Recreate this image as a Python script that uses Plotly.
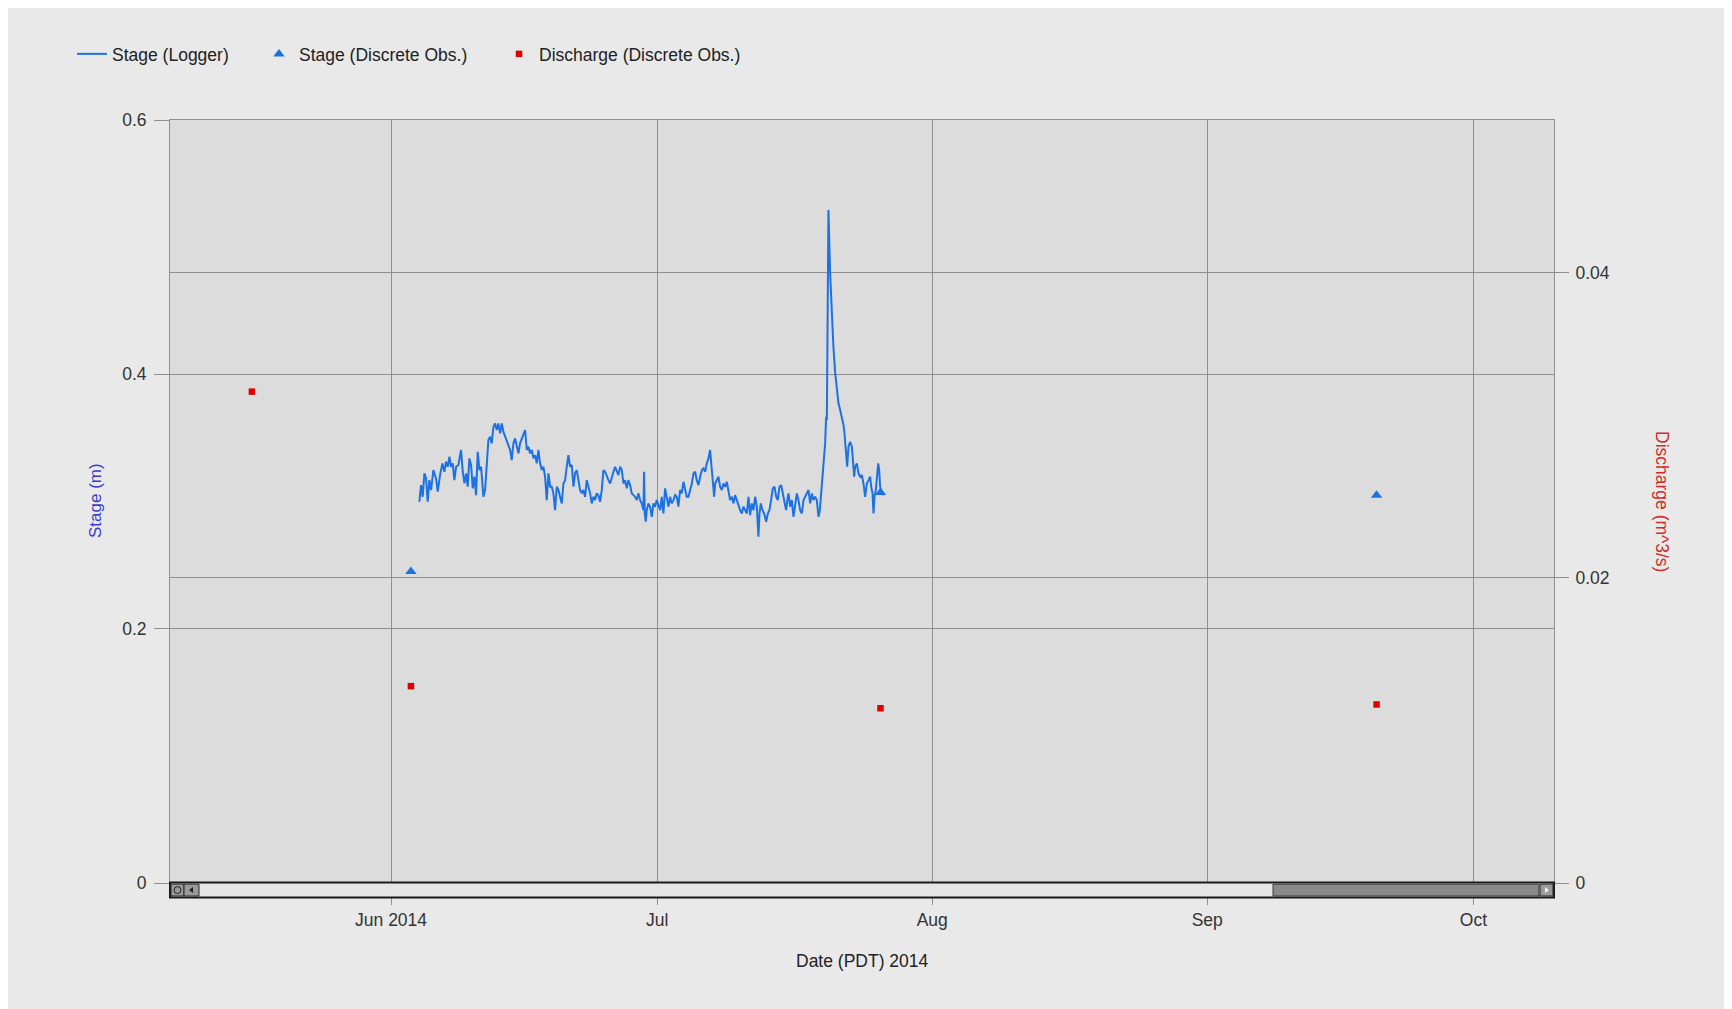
import pandas as pd
import plotly.graph_objects as go

# ---------------- data ----------------
# Stage logger: elapsed days since 2014-06-01 00:00 (PDT) and stage in metres
logger_day = [
    3.19, 3.38, 3.57, 3.76, 3.95, 4.13, 4.32, 4.51, 4.77, 5.07, 5.26, 5.52, 5.79, 6.01, 6.20, 6.39,
    6.58, 6.76, 6.95, 7.14, 7.33, 7.59, 7.89, 8.08, 8.27, 8.46, 8.64, 8.83, 9.02, 9.21, 9.40, 9.58,
    9.77, 9.96, 10.15, 10.41, 10.60, 10.79, 10.97, 11.16, 11.35, 11.54, 11.73, 11.91, 12.10, 12.29,
    12.48, 12.66, 12.85, 13.04, 13.23, 13.42, 13.60, 13.79, 13.98, 14.17, 14.36, 14.54, 14.92, 15.11,
    15.30, 15.48, 15.67, 15.86, 16.05, 16.24, 16.42, 16.61,
    16.80, 16.99, 17.17, 17.36, 17.55, 17.74, 17.93, 18.11, 18.30, 18.49, 18.68, 18.87, 19.05, 19.24,
    19.43, 19.62, 19.80, 19.99, 20.18, 20.37, 20.56, 20.74, 20.93, 21.12, 21.31, 21.50, 21.68, 21.87,
    22.06, 22.25, 22.44, 22.62, 22.81, 23.00, 23.19, 23.37, 23.56, 23.75, 23.94, 24.13, 24.31, 24.50,
    24.69, 24.88, 25.07, 25.25, 25.44, 25.63, 25.82, 26.01, 26.19, 26.38, 26.57, 26.76, 26.94, 27.13,
    27.32, 27.51, 27.70, 27.88, 28.07, 28.26, 28.45, 28.52, 28.60, 28.71, 28.82, 29.01, 29.20, 29.39,
    29.58, 29.76, 29.95, 30.14, 30.33, 30.51, 30.70,
    30.89, 31.08, 31.27, 31.45, 31.64, 31.83, 32.02, 32.21, 32.39, 32.58, 32.77, 32.96, 33.15, 33.33,
    33.52, 33.71, 33.90, 34.09, 34.27, 34.46, 34.65, 34.84, 35.03, 35.21, 35.40, 35.59, 35.78, 35.96,
    36.08, 36.27, 36.42, 36.53, 36.72, 36.90, 37.09, 37.28, 37.47, 37.66, 37.84, 38.03, 38.22, 38.41,
    38.60, 38.78, 38.97, 39.16, 39.35, 39.53, 39.72, 39.91, 40.10, 40.29, 40.47, 40.66, 40.85, 41.04,
    41.23, 41.41, 41.53, 41.68, 41.86, 42.05, 42.28, 42.47, 42.65, 42.84, 43.03, 43.22, 43.41, 43.59,
    43.78, 43.97, 44.16, 44.34, 44.53, 44.72,
    44.80, 44.98, 45.17, 45.36, 45.55, 45.74, 45.92, 46.11, 46.30, 46.49, 46.68, 46.86, 47.05, 47.24,
    47.43, 47.61, 47.80, 47.99, 48.18, 48.33, 48.48, 48.63, 48.78, 48.93, 49.04, 49.12, 49.30, 49.49,
    49.68, 49.86, 50.06, 50.32, 50.43, 50.62, 50.81, 51.00, 51.11, 51.18, 51.30, 51.41, 51.56, 51.75,
    51.94, 52.05, 52.20, 52.31, 52.50, 52.69, 52.88, 53.06, 53.25, 53.44, 53.63, 53.82, 54.00, 54.12,
    54.27, 54.38, 54.49, 54.64, 54.79, 54.91, 55.02, 55.13, 55.32, 55.51,
]
logger_stage = [
    0.2998, 0.3129, 0.3037, 0.3221, 0.3182, 0.2998, 0.3168, 0.3090, 0.3247, 0.3182, 0.3077, 0.3208,
    0.3300, 0.3234, 0.3313, 0.3273, 0.3352, 0.3273, 0.3300, 0.3168, 0.3273, 0.3287, 0.3405, 0.3234,
    0.3142, 0.3221, 0.3116, 0.3339, 0.3287, 0.3103, 0.3195, 0.3050, 0.3391, 0.3247, 0.3273, 0.3037,
    0.3090, 0.3273, 0.3483, 0.3509, 0.3457, 0.3588, 0.3614, 0.3562, 0.3614, 0.3536, 0.3614, 0.3549,
    0.3509, 0.3483, 0.3431, 0.3405, 0.3326, 0.3457, 0.3496, 0.3431, 0.3378, 0.3457, 0.3536, 0.3562,
    0.3405, 0.3431, 0.3378, 0.3405, 0.3339, 0.3365, 0.3300, 0.3405,
    0.3300, 0.3247, 0.3273, 0.3195, 0.3011, 0.3221, 0.3116, 0.3116, 0.3064, 0.2932, 0.3116, 0.3090,
    0.3037, 0.2985, 0.3142, 0.3168, 0.3273, 0.3365, 0.3273, 0.3287, 0.3116, 0.3221, 0.3247, 0.3168,
    0.3090, 0.3064, 0.3090, 0.3037, 0.3168, 0.3116, 0.3064, 0.2985, 0.3037, 0.3011, 0.3064, 0.3050,
    0.2998, 0.3090, 0.3247, 0.3234, 0.3195, 0.3168, 0.3142, 0.3195, 0.3234, 0.3273, 0.3247, 0.3208,
    0.3273, 0.3247, 0.3142, 0.3168, 0.3103, 0.3168, 0.3129, 0.3064, 0.3050, 0.3037, 0.3011, 0.3064,
    0.3011, 0.2985, 0.2932, 0.3234, 0.2906, 0.2841, 0.2932, 0.2985, 0.2959, 0.2880, 0.2985, 0.2959,
    0.3011, 0.2972, 0.2932, 0.3037, 0.2906,
    0.3103, 0.3011, 0.2959, 0.3037, 0.2985, 0.3011, 0.3050, 0.3037, 0.2959, 0.3090, 0.3064, 0.3155,
    0.3077, 0.3037, 0.3037, 0.3090, 0.3142, 0.3221, 0.3234, 0.3168, 0.3129, 0.3195, 0.3247, 0.3260,
    0.3234, 0.3300, 0.3339, 0.3405, 0.3300, 0.3195, 0.3037, 0.3142, 0.3168, 0.3195, 0.3116, 0.3090,
    0.3142, 0.3116, 0.3155, 0.3064, 0.3011, 0.3037, 0.2985, 0.3050, 0.3011, 0.2959, 0.2932, 0.2906,
    0.2959, 0.2932, 0.2906, 0.3037, 0.2893, 0.2985, 0.2932, 0.3037, 0.2959, 0.2723, 0.2906, 0.2985,
    0.2932, 0.2906, 0.2841, 0.2906, 0.2932, 0.3011, 0.3103, 0.3116, 0.3037, 0.3011, 0.3116, 0.3129,
    0.3064, 0.3011, 0.2932, 0.3037,
    0.3064, 0.2959, 0.3011, 0.2880, 0.2985, 0.3064, 0.3011, 0.2932, 0.2906, 0.3011, 0.3037, 0.3064,
    0.3090, 0.2985, 0.3064, 0.3011, 0.3037, 0.3011, 0.2880, 0.2932, 0.3090, 0.3168, 0.3326, 0.3457,
    0.3667, 0.3641, 0.5293, 0.4798, 0.4454, 0.4218, 0.4011, 0.3824, 0.3772, 0.3719, 0.3667, 0.3601,
    0.3536, 0.3457, 0.3405, 0.3273, 0.3431, 0.3470, 0.3431, 0.3326, 0.3195, 0.3273, 0.3300, 0.3221,
    0.3195, 0.3208, 0.3142, 0.3037, 0.3142, 0.3168, 0.3195, 0.3116, 0.3064, 0.2906, 0.3037, 0.3090,
    0.3195, 0.3300, 0.3247, 0.3116, 0.3064, 0.3050,
]

# Discrete observations
stage_obs_time = ["2014-06-03 05:45", "2014-07-26 04:00", "2014-09-20 02:00"]
stage_obs = [0.245, 0.307, 0.305]
discharge_obs_time = ["2014-05-16 07:30", "2014-06-03 05:45", "2014-07-26 04:00", "2014-09-20 02:00"]
discharge_obs = [0.0322, 0.0129, 0.01145, 0.0117]

# Axes
x_range = ["2014-05-07 02:00", "2014-10-10 02:00"]
x_tick_dates = ["2014-06-01", "2014-07-01", "2014-08-01", "2014-09-01", "2014-10-01"]
x_tick_labels = ["Jun 2014", "Jul", "Aug", "Sep", "Oct"]
stage_ticks = [0, 0.2, 0.4, 0.6]
stage_tick_labels = ["0", "0.2", "0.4", "0.6"]
discharge_ticks = [0, 0.02, 0.04]
discharge_tick_labels = ["0", "0.02", "0.04"]

# ---------------- figure ----------------
W, H = 1732, 1009
OFF = 8  # page body margin
ML, MR, MT, MB = 162, 186, 112, 134
PW, PH = W - ML - MR, H - MT - MB


def px(xpage):
    return (xpage - OFF - ML) / PW


def py(ypage):
    return (H - MB - (ypage - OFF)) / PH


FONT = "Liberation Sans, Arial, sans-serif"
BLUE = "#1c72e4"
RED = "#e00000"
GRID = "#8f8f8f"

logger_time = pd.Timestamp("2014-06-01") + pd.to_timedelta(logger_day, unit="D")

fig = go.Figure()
fig.add_trace(go.Scatter(
    x=logger_time, y=logger_stage, mode="lines", name="Stage (Logger)",
    line=dict(color=BLUE, width=2), yaxis="y", legend="legend",
))
fig.add_trace(go.Scatter(
    x=pd.to_datetime(stage_obs_time), y=stage_obs, mode="markers", name="Stage (Discrete Obs.)",
    marker=dict(symbol="triangle-up", size=10, color=BLUE), yaxis="y", legend="legend2",
))
fig.add_trace(go.Scatter(
    x=pd.to_datetime(discharge_obs_time), y=discharge_obs, mode="markers",
    name="Discharge (Discrete Obs.)",
    marker=dict(symbol="square", size=6.5, color=RED), yaxis="y2", legend="legend3",
))

tickfont = dict(family=FONT, size=17.5, color="#333333")
legfont = dict(family=FONT, size=17.5, color="#222222")


def leg(xpage):
    return dict(orientation="h", x=px(xpage), y=py(54), xanchor="left", yanchor="middle",
                font=legfont, bgcolor="rgba(0,0,0,0)", borderwidth=0, itemwidth=30)


shapes = []
# scrollbar under the plot
sb_top, sb_bot = 882.6, 897.5
shapes.append(dict(type="rect", xref="paper", yref="paper", x0=px(170), x1=px(1554),
                   y0=py(sb_top), y1=py(sb_bot), fillcolor="#e6e6e6",
                   line=dict(color="#1a1a1a", width=2), layer="above"))
shapes.append(dict(type="rect", xref="paper", yref="paper", x0=px(1273), x1=px(1539),
                   y0=py(sb_top + 1.5), y1=py(sb_bot - 1.5), fillcolor="#8a8a8a",
                   line=dict(color="#3a3a3a", width=1), layer="above"))
for a, b in [(171, 184), (184, 199), (1540, 1553)]:
    shapes.append(dict(type="rect", xref="paper", yref="paper", x0=px(a), x1=px(b),
                       y0=py(sb_top + 1.5), y1=py(sb_bot - 1.5), fillcolor="#9a9a9a",
                       line=dict(color="#2a2a2a", width=1), layer="above"))
shapes.append(dict(type="circle", xref="paper", yref="paper", x0=px(174), x1=px(181),
                   y0=py(sb_top + 4), y1=py(sb_bot - 4), line=dict(color="#222", width=1),
                   layer="above"))
shapes.append(dict(type="path", xref="paper", yref="paper",
                   path=f"M {px(193)} {py(sb_top+4.5)} L {px(193)} {py(sb_bot-4.5)} L {px(189)} {py((sb_top+sb_bot)/2)} Z",
                   fillcolor="#222", line_width=0, layer="above"))
shapes.append(dict(type="path", xref="paper", yref="paper",
                   path=f"M {px(1545)} {py(sb_top+4.5)} L {px(1545)} {py(sb_bot-4.5)} L {px(1549)} {py((sb_top+sb_bot)/2)} Z",
                   fillcolor="#f0f0f0", line_width=0, layer="above"))

annotations = [
    dict(text="Stage (m)", xref="paper", yref="paper", x=px(95), y=py(501), textangle=-90,
         showarrow=False, xanchor="center", yanchor="middle",
         font=dict(family=FONT, size=17, color="#3b3bc4")),
    dict(text="Discharge (m^3/s)", xref="paper", yref="paper", x=px(1662), y=py(501), textangle=90,
         showarrow=False, xanchor="center", yanchor="middle",
         font=dict(family=FONT, size=17.5, color="#d42a2a")),
    dict(text="Date (PDT) 2014", xref="paper", yref="paper", x=0.5, y=py(961),
         showarrow=False, xanchor="center", yanchor="middle",
         font=dict(family=FONT, size=17.5, color="#222222")),
]

fig.update_layout(
    width=W, height=H,
    margin=dict(l=ML, r=MR, t=MT, b=MB, pad=0),
    paper_bgcolor="#e9e9e9",
    plot_bgcolor="#dcdcdc",
    showlegend=True,
    legend=leg(72),
    legend2=leg(259),
    legend3=leg(499),
    xaxis=dict(type="date", range=x_range, tickvals=x_tick_dates, ticktext=x_tick_labels,
               ticks="outside", ticklen=21, tickcolor=GRID, tickwidth=1,
               showgrid=True, gridcolor=GRID, gridwidth=1,
               showline=True, linecolor=GRID, linewidth=1, mirror=True,
               tickfont=tickfont, zeroline=False, fixedrange=True),
    yaxis=dict(range=[0, 0.6], tickvals=stage_ticks, ticktext=stage_tick_labels,
               ticks="outside", ticklen=15, tickcolor=GRID,
               showgrid=True, gridcolor=GRID, gridwidth=1,
               showline=True, linecolor=GRID, linewidth=1, mirror=True,
               tickfont=tickfont, zeroline=False, ticklabelstandoff=4),
    yaxis2=dict(range=[0, 0.05], tickvals=discharge_ticks, ticktext=discharge_tick_labels,
                overlaying="y", side="right",
                ticks="outside", ticklen=14, tickcolor=GRID,
                showgrid=True, gridcolor=GRID, gridwidth=1,
                showline=False, tickfont=tickfont, zeroline=False, ticklabelstandoff=3),
    shapes=shapes,
    annotations=annotations,
)

fig.write_html("out.html")
